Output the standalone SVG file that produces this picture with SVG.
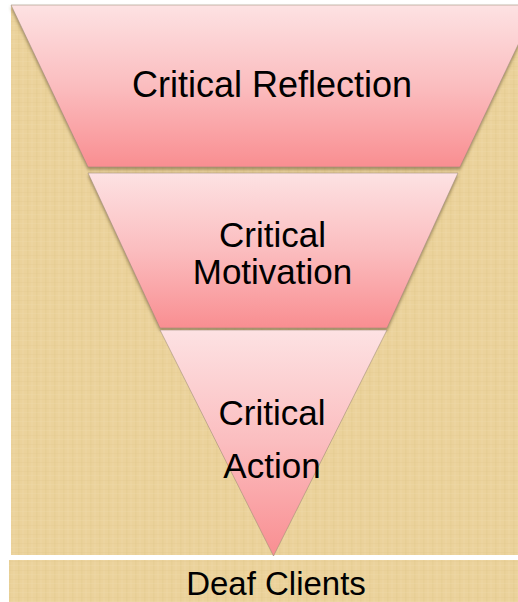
<svg xmlns="http://www.w3.org/2000/svg" width="518" height="602" viewBox="0 0 518 602">
  <style>
    .label { font-family: "Liberation Sans", Arial, sans-serif; fill: #000; text-anchor: middle; }
    .band { stroke: #9b8a74; stroke-width: 0.8; stroke-opacity: 0.7; }
  </style>
  <defs>
    <!-- woven burlap-like tan texture -->
    <pattern id="weave" width="9" height="9" patternUnits="userSpaceOnUse">
      <rect width="9" height="9" fill="#ebd29b"/>
      <rect x="0" y="0" width="1.5" height="9" fill="#e4cb90" opacity="0.5"/>
      <rect x="4.5" y="0" width="1" height="9" fill="#f0dbaa" opacity="0.5"/>
      <rect x="0" y="3" width="9" height="1" fill="#e3c98e" opacity="0.3"/>
      <rect x="0" y="7" width="9" height="1" fill="#f1dcae" opacity="0.3"/>
    </pattern>
    <linearGradient id="pink" x1="0" y1="0" x2="0" y2="1">
      <stop offset="0" stop-color="#fde2e3"/>
      <stop offset="0.5" stop-color="#fbbdbf"/>
      <stop offset="1" stop-color="#f98e91"/>
    </linearGradient>
    <filter id="shadow" x="-10%" y="-10%" width="120%" height="130%">
      <feDropShadow dx="0" dy="2.5" stdDeviation="1.5" flood-color="#6b5530" flood-opacity="0.55"/>
    </filter>
  </defs>

  <rect width="518" height="602" fill="#ffffff"/>

  <!-- textured backdrop panels -->
  <rect id="panel" x="11" y="5" width="507" height="550" fill="url(#weave)"/>

  <g id="base">
    <rect x="9" y="560" width="509" height="42" fill="url(#weave)"/>
    <text class="label" x="276" y="595" font-size="33">Deaf Clients</text>
  </g>

  <g id="reflection">
    <polygon class="band" filter="url(#shadow)" points="11,5 537,5 460,167 88,167" fill="url(#pink)"/>
    <text class="label" x="272" y="97" font-size="36">Critical Reflection</text>
  </g>

  <g id="motivation">
    <polygon class="band" filter="url(#shadow)" points="88,173 458,173 387,328 160,328" fill="url(#pink)"/>
    <text class="label" x="272.5" y="247" font-size="35">Critical</text>
    <text class="label" x="272.5" y="284" font-size="35">Motivation</text>
  </g>

  <g id="action">
    <polygon class="band" points="160,330 387,330 273.5,556" fill="url(#pink)"/>
    <text class="label" x="272" y="425" font-size="35">Critical</text>
    <text class="label" x="272" y="478" font-size="35">Action</text>
  </g>

  <g id="connectors"/>
</svg>
